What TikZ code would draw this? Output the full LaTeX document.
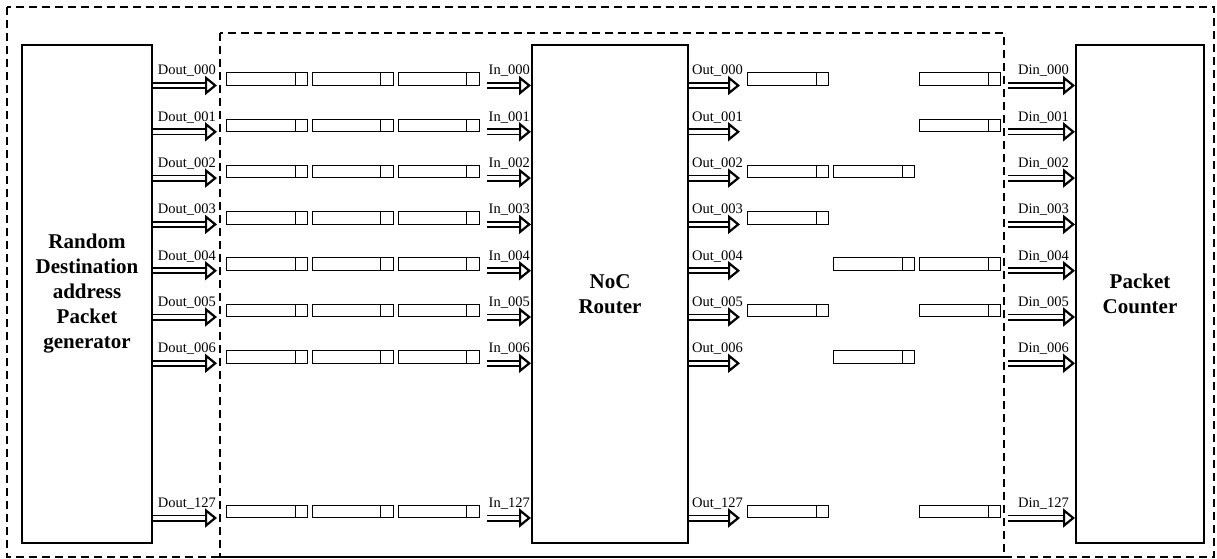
\documentclass[tikz,border=0pt]{standalone}
\usepackage{fontspec}
\setmainfont{Liberation Serif}[BoldFont={Liberation Serif Bold}]
\usetikzlibrary{arrows.meta,positioning,calc}
\tikzset{
  block/.style={draw,line width=2pt,inner sep=0pt,align=center,
    font=\fontsize{21}{25}\selectfont\bfseries},
  buf/.style={draw,line width=1pt,minimum width=81pt,minimum height=12.5pt,inner sep=0pt,anchor=west,
    path picture={\draw[line width=1pt] ([xshift=-12.5pt]path picture bounding box.north east)
      -- ([xshift=-12.5pt]path picture bounding box.south east);}},
  port/.style={font=\fontsize{14.5}{16}\selectfont,inner sep=0pt},
  bus/.style={draw=black,double=white,double distance=3.4pt,line width=1.8pt,
    -{Triangle[open,length=12pt,width=19pt,line width=2.2pt]}},
  frame/.style={dash pattern=on 8pt off 5pt,line width=1.3pt}
}
\begin{document}
\begin{tikzpicture}[x=1pt,y=-1pt]
  \useasboundingbox (0,0) rectangle (1217,559);
  \draw[frame] (7,7) rectangle (1214,557);
  \draw[frame] (220,33) rectangle (1004,557);
  \node[block,minimum width=130pt,minimum height=498pt] (gen) at (87,294)
    {Random\\Destination\\address\\Packet\\generator};
  \node[block,minimum width=156pt,minimum height=498pt] (noc) at (610,294) {NoC\\Router};
  \node[block,minimum width=128pt,minimum height=498pt] (cnt) at (1140,294) {Packet\\Counter};
  \foreach \p/\y/\cols in {000/85.5/{1,3},001/131.8/{3},002/178.1/{1,2},003/224.4/{1},
      004/270.7/{2,3},005/317/{1,3},006/363.3/{2},127/518/{1,3}}{
    \coordinate (dout\p) at (217,\y);
    \coordinate (in\p) at (487,\y);
    \coordinate (out\p) at (740,\y);
    \coordinate (din\p) at (1008,\y);
    \draw[bus] (gen.east |- dout\p) -- (dout\p);
    \draw[bus] (in\p) -- (noc.west |- in\p);
    \draw[bus] (noc.east |- out\p) -- (out\p);
    \draw[bus] (din\p) -- (cnt.west |- din\p);
    \node[port,anchor=base east] (ldout\p) at (216,{\y-10.5}) {Dout\_\p};
    \node[port,anchor=base east] (lin\p) at (530,{\y-10.5}) {In\_\p};
    \node[port,anchor=base west] (lout\p) at (692,{\y-10.5}) {Out\_\p};
    \node[port,anchor=base east] (ldin\p) at (1069,{\y-10.5}) {Din\_\p};
    \foreach \k in {1,2,3}
      \node[buf] (lb\p\k) at ({226+85.75*(\k-1)},{\y-6.5}) {};
    \foreach \k in \cols
      \node[buf] (rb\p\k) at ({747+86*(\k-1)},{\y-6.5}) {};
  }
\end{tikzpicture}
\end{document}
